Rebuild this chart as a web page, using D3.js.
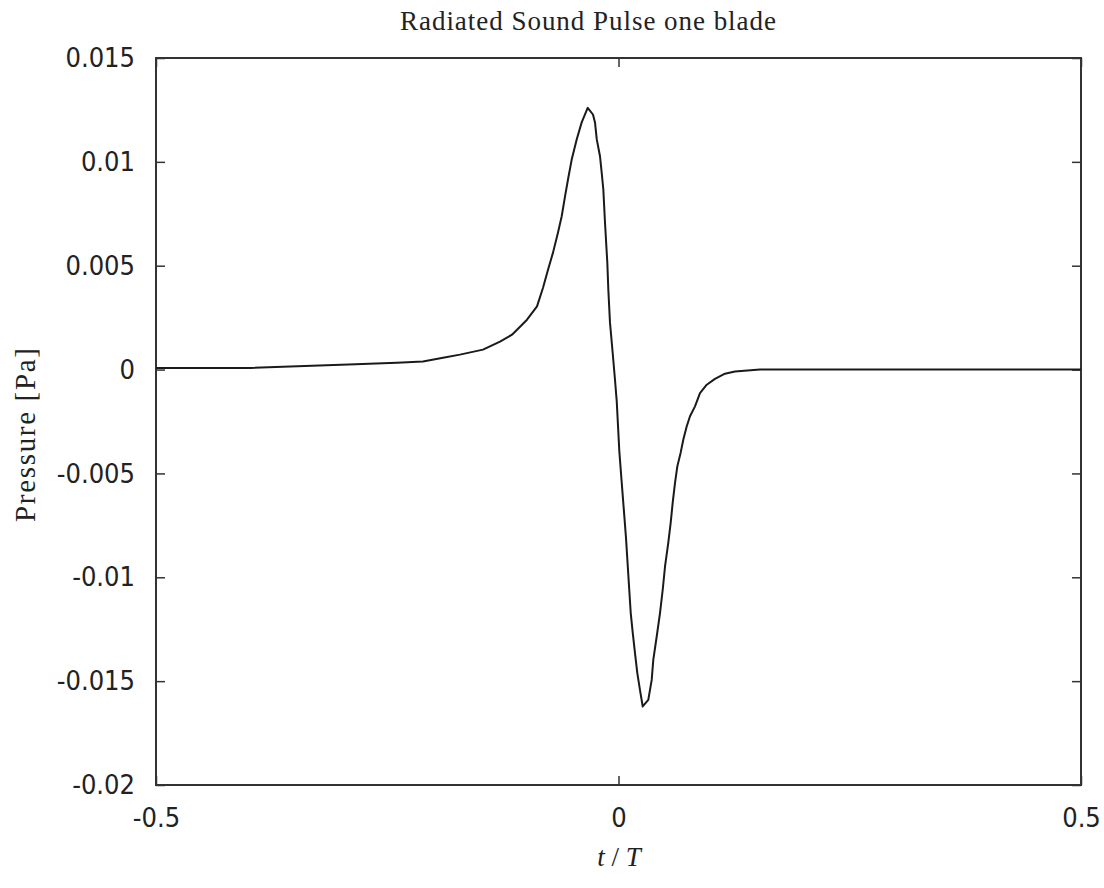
<!DOCTYPE html>
<html>
<head>
<meta charset="utf-8">
<script src="https://cdn.jsdelivr.net/npm/d3@7"></script>
<style>
  body { margin: 0; background: #fff; }
  .tick text { font-family: "DejaVu Sans Condensed", "DejaVu Sans", sans-serif; font-stretch: condensed; font-size: 27px; fill: #222; }
  .serif { font-family: "Liberation Serif", "DejaVu Serif", serif; fill: #222; }
</style>
</head>
<body>
<div id="graph"></div>
<script>

// pulse samples: t/T and pressure [Pa]
var tValues = [-0.5, -0.398, -0.292, -0.2395, -0.2114, -0.1897, -0.1714, -0.1465, -0.1281, -0.1151,
  -0.0989, -0.0881, -0.0816, -0.0762, -0.0708, -0.0654, -0.0614, -0.0578, -0.0546, -0.0506,
  -0.0452, -0.0398, -0.0333, -0.0276, -0.0254, -0.0235, -0.02, -0.0182, -0.0164, -0.0146,
  -0.0121, -0.011, -0.0092, -0.0063, -0.0038, -0.0019, 0.0009, 0.0035, 0.0059, 0.0081,
  0.0106, 0.0132, 0.0154, 0.0178, 0.0203, 0.0232, 0.0262, 0.0322, 0.0359, 0.0376,
  0.0413, 0.0449, 0.0478, 0.0503, 0.0538, 0.0564, 0.0586, 0.0611, 0.0636, 0.0672,
  0.0701, 0.0737, 0.0773, 0.0827, 0.0881, 0.0954, 0.1043, 0.1151, 0.1259, 0.153, 0.5];

var pValues = [0.00007, 0.00008, 0.00024, 0.00033, 0.00039, 0.00057, 0.00072, 0.00096, 0.00135, 0.00168,
  0.0024, 0.00304, 0.00394, 0.00481, 0.00563, 0.0066, 0.00738, 0.00834, 0.00915, 0.01011,
  0.01108, 0.0119, 0.0126, 0.01228, 0.0119, 0.01108, 0.01027, 0.00949, 0.00867, 0.00708,
  0.00515, 0.00385, 0.00226, 0.00081, -0.00049, -0.00153, -0.00394, -0.00545, -0.00683, -0.0081,
  -0.00988, -0.01171, -0.01268, -0.01364, -0.0146, -0.01542, -0.01622, -0.0159, -0.01494, -0.01398,
  -0.01285, -0.01171, -0.0106, -0.00948, -0.00834, -0.00738, -0.00641, -0.00545, -0.00466, -0.004,
  -0.00337, -0.00274, -0.00225, -0.00177, -0.00113, -0.00073, -0.00045, -0.0002, -0.00009, 0, 0];

var xTicks = [-0.5, 0, 0.5];
var xTickLabels = ["-0.5", "0", "0.5"];
var yTicks = [-0.02, -0.015, -0.01, -0.005, 0, 0.005, 0.01, 0.015];
var yTickLabels = ["-0.02", "-0.015", "-0.01", "-0.005", "0", "0.005", "0.01", "0.015"];

var titleText = "Radiated Sound Pulse one blade";
var yLabelText = "Pressure [Pa]";

// set the dimensions and margins of the graph
var margin = {top: 58, right: 23, bottom: 103, left: 156},
    width = 1104 - margin.left - margin.right,
    height = 888 - margin.top - margin.bottom;

var svg = d3.select("#graph")
  .append("svg")
    .attr("width", 1104)
    .attr("height", 888)
  .append("g")
    .attr("transform", "translate(" + margin.left + "," + margin.top + ")");

var x = d3.scaleLinear()
  .domain([-0.5, 0.5])
  .range([0, width]);

var y = d3.scaleLinear()
  .domain([-0.02, 0.015])
  .range([height, 0]);

// inward ticks, gnuplot style, mirrored on top and right
var tick = 9;

svg.append("g")
  .attr("transform", "translate(0," + height + ")")
  .call(d3.axisBottom(x).tickValues(xTicks)
    .tickFormat(function(d, i) { return xTickLabels[i]; })
    .tickSizeInner(-tick).tickSizeOuter(0).tickPadding(23));

svg.append("g")
  .call(d3.axisTop(x).tickValues(xTicks).tickFormat("")
    .tickSizeInner(-tick).tickSizeOuter(0));

svg.append("g")
  .call(d3.axisLeft(y).tickValues(yTicks)
    .tickFormat(function(d, i) { return yTickLabels[i]; })
    .tickSizeInner(-tick).tickSizeOuter(0).tickPadding(21));

svg.append("g")
  .attr("transform", "translate(" + width + ",0)")
  .call(d3.axisRight(y).tickValues(yTicks).tickFormat("")
    .tickSizeInner(-tick).tickSizeOuter(0));

svg.selectAll(".domain").remove();
svg.selectAll(".tick line").attr("stroke", "#333").attr("stroke-width", 1.5);

// frame
svg.append("rect")
  .attr("width", width)
  .attr("height", height)
  .attr("fill", "none")
  .attr("stroke", "#333")
  .attr("stroke-width", 2);

// the pulse
var line = d3.line()
  .x(function(d) { return x(d[0]); })
  .y(function(d) { return y(d[1]); });

svg.append("path")
  .datum(d3.zip(tValues, pValues))
  .attr("fill", "none")
  .attr("stroke", "#1a1a1a")
  .attr("stroke-width", 2)
  .attr("stroke-linejoin", "round")
  .attr("d", line);

// labels
var root = d3.select("#graph svg");

root.append("text")
  .attr("class", "serif")
  .attr("x", 588)
  .attr("y", 30)
  .attr("text-anchor", "middle")
  .attr("font-size", 27)
  .attr("textLength", 376)
  .attr("lengthAdjust", "spacing")
  .text(titleText);

root.append("text")
  .attr("class", "serif")
  .attr("transform", "translate(35,435) rotate(-90)")
  .attr("text-anchor", "middle")
  .attr("font-size", 29)
  .attr("textLength", 174)
  .attr("lengthAdjust", "spacing")
  .text(yLabelText);

var xl = root.append("text")
  .attr("class", "serif")
  .attr("x", 619)
  .attr("y", 866)
  .attr("text-anchor", "middle")
  .attr("font-size", 27)
  .attr("font-style", "italic");
xl.append("tspan").text("t");
xl.append("tspan").attr("font-style", "normal").text(" / ");
xl.append("tspan").text("T");

</script>
</body>
</html>
